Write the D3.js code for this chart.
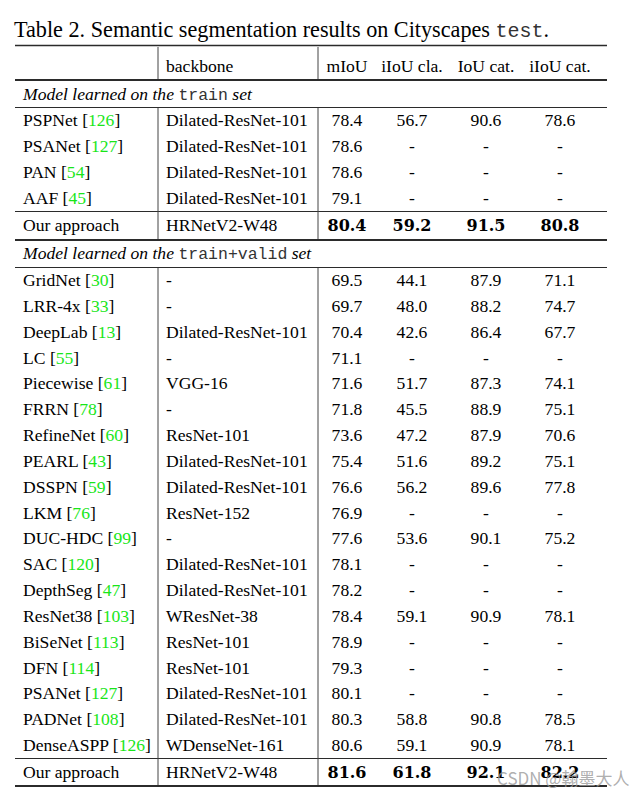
<!DOCTYPE html>
<html><head><meta charset="utf-8">
<script src="https://cdn.jsdelivr.net/npm/d3@7"></script>
<style>
html,body{margin:0;padding:0;background:#fff;}
svg{display:block;}
</style>
</head><body>
<svg id="chart" width="643" height="797"></svg>
<script>
// ---------- data ----------
const metricNames = ["mIoU", "iIoU cla.", "IoU cat.", "iIoU cat."];

const g1Methods   = ["PSPNet", "PSANet", "PAN", "AAF"];
const g1Refs      = ["126", "127", "54", "45"];
const g1Backbones = ["Dilated-ResNet-101", "Dilated-ResNet-101", "Dilated-ResNet-101", "Dilated-ResNet-101"];
const g1mIoU      = ["78.4", "78.6", "78.6", "79.1"];
const g1iIoUcla   = ["56.7", "-", "-", "-"];
const g1IoUcat    = ["90.6", "-", "-", "-"];
const g1iIoUcat   = ["78.6", "-", "-", "-"];
const g1Ours      = ["80.4", "59.2", "91.5", "80.8"];

const g2Methods   = ["GridNet", "LRR-4x", "DeepLab", "LC", "Piecewise", "FRRN", "RefineNet", "PEARL", "DSSPN", "LKM",
                     "DUC-HDC", "SAC", "DepthSeg", "ResNet38", "BiSeNet", "DFN", "PSANet", "PADNet", "DenseASPP"];
const g2Refs      = ["30", "33", "13", "55", "61", "78", "60", "43", "59", "76",
                     "99", "120", "47", "103", "113", "114", "127", "108", "126"];
const g2Backbones = ["-", "-", "Dilated-ResNet-101", "-", "VGG-16", "-", "ResNet-101", "Dilated-ResNet-101", "Dilated-ResNet-101", "ResNet-152",
                     "-", "Dilated-ResNet-101", "Dilated-ResNet-101", "WResNet-38", "ResNet-101", "ResNet-101", "Dilated-ResNet-101", "Dilated-ResNet-101", "WDenseNet-161"];
const g2mIoU      = ["69.5", "69.7", "70.4", "71.1", "71.6", "71.8", "73.6", "75.4", "76.6", "76.9",
                     "77.6", "78.1", "78.2", "78.4", "78.9", "79.3", "80.1", "80.3", "80.6"];
const g2iIoUcla   = ["44.1", "48.0", "42.6", "-", "51.7", "45.5", "47.2", "51.6", "56.2", "-",
                     "53.6", "-", "-", "59.1", "-", "-", "-", "58.8", "59.1"];
const g2IoUcat    = ["87.9", "88.2", "86.4", "-", "87.3", "88.9", "87.9", "89.2", "89.6", "-",
                     "90.1", "-", "-", "90.9", "-", "-", "-", "90.8", "90.9"];
const g2iIoUcat   = ["71.1", "74.7", "67.7", "-", "74.1", "75.1", "70.6", "75.1", "77.8", "-",
                     "75.2", "-", "-", "78.1", "-", "-", "-", "78.5", "78.1"];
const g2Ours      = ["81.6", "61.8", "92.1", "82.2"];

const oursName = "Our approach";
const oursBackbone = "HRNetV2-W48";

// ---------- layout ----------
const svg = d3.select("#chart");
const SERIF = "'Liberation Serif','Times New Roman',serif";
const MONO = "'Liberation Mono','DejaVu Sans Mono',monospace";
const FS = 17.6;
const left = 15, right = 607, vx1 = 158, vx2 = 318;
const xName = 23, xBack = 166;
const xMetric = d3.scaleOrdinal(metricNames, [347, 412, 486, 560]);

// row scales (centres)
const y1 = d3.scaleLinear().domain([0, 3]).range([120, 198]);
const y2 = d3.scaleLinear().domain([0, 18]).range([280, 745]);
const yHeader = 66, yOurs1 = 225, yOurs2 = 772, ySec1 = 94, ySec2 = 253;
const base = 6; // baseline offset from row centre

// title
const title = svg.append("text").attr("x", 14).attr("y", 37)
  .attr("font-family", SERIF).attr("font-size", 22.2).attr("fill", "#000");
title.append("tspan").text("Table 2. Semantic segmentation results on Cityscapes ");
title.append("tspan").attr("font-family", MONO).attr("font-size", 20).attr("fill", "#333").text("test");
title.append("tspan").text(".");

// rules
function hline(y, w) {
  svg.append("line").attr("x1", left).attr("x2", right).attr("y1", y).attr("y2", y)
    .attr("stroke", "#2b2b2b").attr("stroke-width", w);
}
function vline(x, ya, yb) {
  svg.append("line").attr("x1", x).attr("x2", x).attr("y1", ya).attr("y2", yb)
    .attr("stroke", "#444").attr("stroke-width", 1);
}
hline(45.5, 1.5);
hline(80, 2.2);
hline(107.5, 1);
hline(211.5, 1);
hline(240, 2.2);
hline(267.5, 1);
hline(758.5, 1);
hline(786, 1.8);
[vx1, vx2].forEach(x => { vline(x, 47, 79); vline(x, 108, 239); vline(x, 268, 785); });

// header
svg.append("text").attr("x", xBack).attr("y", yHeader + base)
  .attr("font-family", SERIF).attr("font-size", FS).text("backbone");
svg.selectAll("text.hdr").data(metricNames).join("text").attr("class", "hdr")
  .attr("x", d => xMetric(d)).attr("y", yHeader + base).attr("text-anchor", "middle")
  .attr("font-family", SERIF).attr("font-size", FS).text(d => d);

// section labels
function section(y, word) {
  const t = svg.append("text").attr("x", 23).attr("y", y + base)
    .attr("font-family", SERIF).attr("font-size", FS).attr("font-style", "italic");
  t.append("tspan").text("Model learned on the ");
  t.append("tspan").attr("font-family", MONO).attr("font-style", "normal").attr("font-size", 16.5).attr("fill", "#333").text(word);
  t.append("tspan").text(" set");
}
section(ySec1, "train");
section(ySec2, "train+valid");

// rows
function rows(cls, yScale, methods, refs, backbones, cols) {
  const data = methods.map((m, i) => ({
    m, ref: refs[i], b: backbones[i], vals: cols.map(c => c[i]), y: yScale(i)
  }));
  const g = svg.selectAll("g." + cls).data(data).join("g").attr("class", cls)
    .attr("transform", d => `translate(0,${d.y + base})`)
    .attr("font-family", SERIF).attr("font-size", FS);
  const n = g.append("text").attr("x", xName);
  n.append("tspan").text(d => d.m + " [");
  n.append("tspan").attr("fill", "#19e619").text(d => d.ref);
  n.append("tspan").text("]");
  g.append("text").attr("x", xBack).text(d => d.b);
  g.selectAll("text.v").data(d => d.vals.map((v, j) => ({ v, k: metricNames[j] })))
    .join("text").attr("class", "v").attr("text-anchor", "middle")
    .attr("x", d => xMetric(d.k)).text(d => d.v);
}
rows("r1", y1, g1Methods, g1Refs, g1Backbones, [g1mIoU, g1iIoUcla, g1IoUcat, g1iIoUcat]);
rows("r2", y2, g2Methods, g2Refs, g2Backbones, [g2mIoU, g2iIoUcla, g2IoUcat, g2iIoUcat]);

function ours(y, vals) {
  const g = svg.append("g").attr("transform", `translate(0,${y + base})`)
    .attr("font-family", SERIF).attr("font-size", FS);
  g.append("text").attr("x", xName).text(oursName);
  g.append("text").attr("x", xBack).text(oursBackbone);
  g.selectAll("text.b").data(vals).join("text").attr("class", "b")
    .attr("x", (d, j) => xMetric(metricNames[j])).attr("text-anchor", "middle")
    .attr("font-family", "'DejaVu Serif',serif").attr("font-weight", "bold").attr("font-size", 16)
    .text(d => d);
}
ours(yOurs1, g1Ours);
ours(yOurs2, g2Ours);

// watermark
svg.append("text").attr("x", 497).attr("y", 785)
  .attr("font-family", "'Noto Sans CJK SC','Noto Sans',sans-serif").attr("font-size", 17)
  .attr("fill", "#9a9a9a").attr("fill-opacity", 0.8).text("CSDN @翰墨大人");
</script>
</body></html>
